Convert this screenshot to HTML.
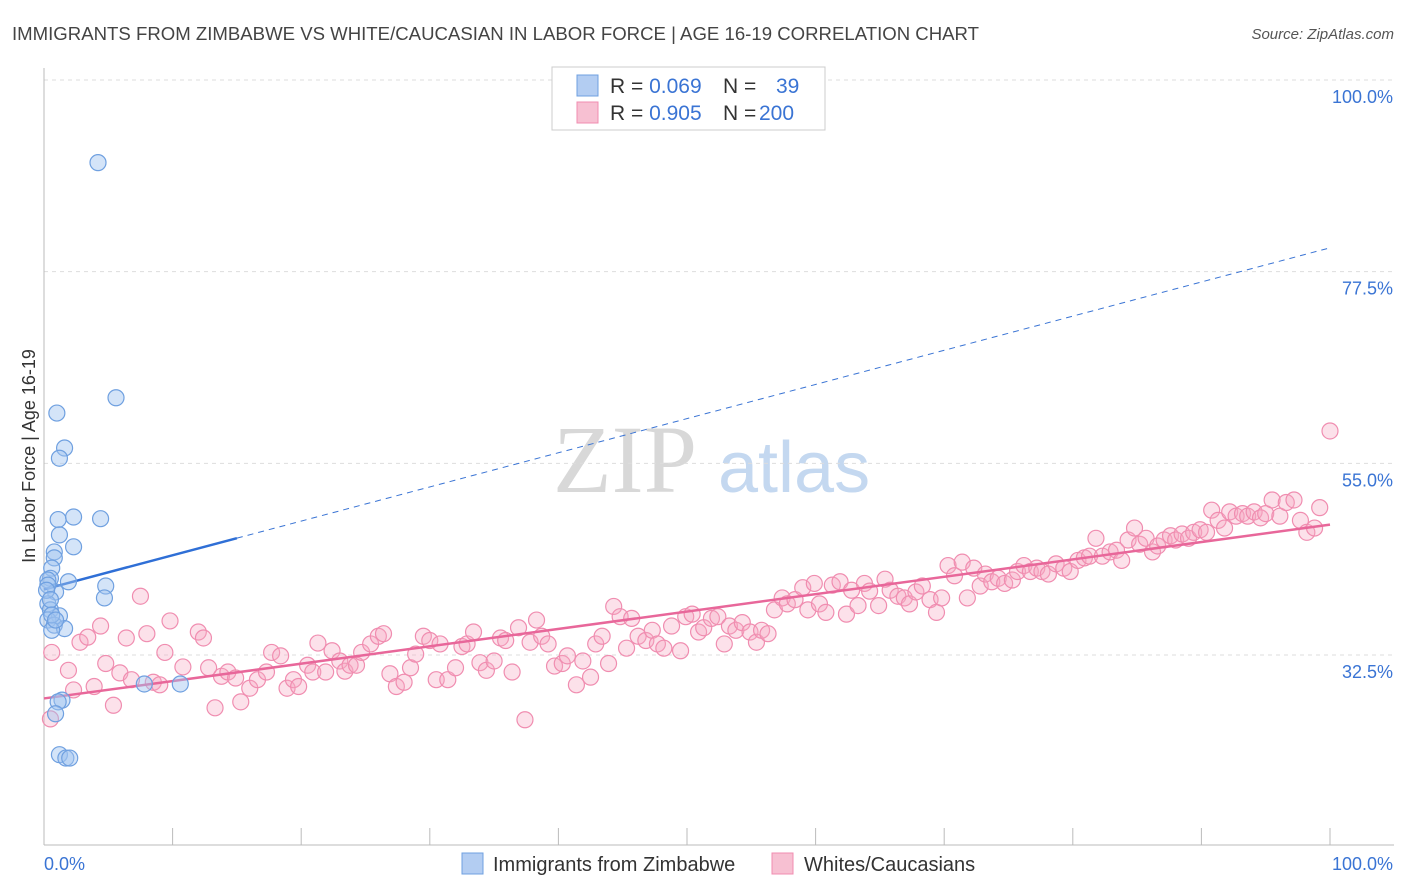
<!DOCTYPE html>
<html><head><meta charset="utf-8"><style>
body{margin:0;background:#fff;font-family:"Liberation Sans",sans-serif;}
svg{display:block}
</style></head><body>
<svg id="chart" width="1406" height="892" xmlns="http://www.w3.org/2000/svg">
<text x="12" y="40" font-size="18.6" fill="#444">IMMIGRANTS FROM ZIMBABWE VS WHITE/CAUCASIAN IN LABOR FORCE | AGE 16-19 CORRELATION CHART</text>
<text x="1394" y="39" font-size="15" fill="#555" font-style="italic" text-anchor="end">Source: ZipAtlas.com</text>
<g>
<text x="553" y="492" font-size="96" font-family="Liberation Serif,serif" fill="#d8d8d8">ZIP</text>
<text x="718" y="492" font-size="72" fill="#c4d8f0">atlas</text>
</g>
<g id="grid"></g>
<g id="axes"></g>
<g id="lines"></g>
<g id="points"></g>
<text transform="translate(35,456) rotate(-90)" font-size="18" fill="#333" text-anchor="middle">In Labor Force | Age 16-19</text>
<g>
<rect x="552" y="67" width="273" height="63" fill="#fff" stroke="#ccc"/>
<rect x="577" y="75" width="21" height="21" fill="#b3cdf2" stroke="#6fa0e0"/>
<rect x="577" y="102" width="21" height="21" fill="#f7c0d2" stroke="#f08db0"/>
<text x="610" y="93" font-size="21" fill="#333">R = <tspan fill="#3a74d4">0.069</tspan><tspan x="723">N =</tspan><tspan x="776" fill="#3a74d4">39</tspan></text>
<text x="610" y="120" font-size="21" fill="#333">R = <tspan fill="#3a74d4">0.905</tspan><tspan x="723">N =</tspan><tspan x="759" fill="#3a74d4">200</tspan></text>
</g>
<g>
<rect x="462" y="853" width="21" height="21" fill="#b3cdf2" stroke="#6fa0e0"/>
<text x="493" y="871" font-size="20" fill="#333">Immigrants from Zimbabwe</text>
<rect x="772" y="853" width="21" height="21" fill="#f7c0d2" stroke="#f08db0"/>
<text x="804" y="871" font-size="20" fill="#333">Whites/Caucasians</text>
</g>
</svg>
<script>
const yTicks=[100,77.5,55,32.5];
const yTickLabels=["100.0%","77.5%","55.0%","32.5%"];
const xTickCount=10;
const blueX=[4.2,5.6,1.0,1.6,1.2,1.1,2.3,4.4,1.2,2.3,0.8,0.8,0.6,0.5,0.3,1.9,0.9,4.8,4.7,0.3,0.5,1.2,0.3,0.8,1.6,0.6,7.8,10.6,1.4,1.1,0.9,1.2,1.7,2.0,0.3,0.2,0.5,0.6,0.9];
const blueY=[90.3,62.7,60.9,56.8,55.6,48.4,48.7,48.5,46.6,45.2,44.6,43.9,42.7,41.5,41.3,41.1,39.9,40.6,39.2,38.5,37.8,37.1,36.6,36.0,35.6,35.4,29.1,29.1,27.2,27.0,25.6,20.8,20.4,20.4,40.7,40.1,39.0,37.2,36.6];
const pinkX=[0.5,0.6,1.9,2.3,2.8,3.4,3.9,4.4,4.8,5.4,5.9,6.4,6.8,7.5,8,8.5,9,9.4,9.8,10.8,12,12.4,12.8,13.3,13.8,14.3,14.9,15.3,16,16.6,17.3,17.7,18.4,18.9,19.4,19.8,20.5,20.9,21.3,21.9,22.4,23,23.4,23.8,24.3,24.7,25.4,26,26.4,26.9,27.4,28,28.5,28.9,29.5,30,30.5,30.8,31.4,32,32.5,32.9,33.4,33.9,34.4,35,35.5,35.9,36.4,36.9,37.4,37.8,38.3,38.7,39.2,39.7,40.3,40.7,41.4,41.9,42.5,42.9,43.4,43.9,44.3,44.8,45.3,45.7,46.2,46.8,47.3,47.7,48.2,48.8,49.5,49.9,50.4,50.9,51.3,51.9,52.4,52.9,53.3,53.8,54.3,54.9,55.4,55.8,56.3,56.8,57.4,57.8,58.4,59,59.4,59.9,60.3,60.8,61.3,61.9,62.4,62.8,63.3,63.8,64.2,64.9,65.4,65.8,66.4,66.9,67.3,67.8,68.3,68.9,69.4,69.8,70.3,70.8,71.4,71.8,72.3,72.8,73.2,73.7,74.2,74.7,75.3,75.7,76.2,76.7,77.2,77.6,78.1,78.7,79.3,79.8,80.4,80.9,81.3,81.8,82.3,82.9,83.4,83.8,84.3,84.8,85.2,85.7,86.2,86.6,87.1,87.6,88,88.5,89,89.4,89.9,90.4,90.8,91.3,91.8,92.2,92.7,93.2,93.6,94.1,94.6,95,95.5,96.1,96.6,97.2,97.7,98.2,98.8,99.2,100];
const pinkY=[25,32.8,30.7,28.4,34,34.6,28.8,35.9,31.5,26.6,30.4,34.5,29.6,39.4,35,29.3,29,32.8,36.5,31.1,35.2,34.5,31,26.3,30,30.5,29.8,27,28.6,29.6,30.5,32.8,32.4,28.6,29.6,28.8,31.3,30.5,33.9,30.5,33,31.8,30.6,31.3,31.3,32.8,33.8,34.7,35,30.3,28.8,29.3,31,32.6,34.7,34.2,29.6,33.8,29.6,31,33.5,33.8,35.2,31.6,30.7,31.8,34.5,34.2,30.5,35.7,24.9,34,36.6,34.7,33.8,31.2,31.5,32.4,29,31.8,29.9,33.8,34.7,31.5,38.2,37,33.3,36.8,34.7,34.2,35.4,33.8,33.3,35.9,33,37,37.3,35.2,35.7,36.8,37,33.8,35.9,35.4,36.3,35.2,34,35.4,35,37.8,39.2,38.5,39,40.4,37.8,40.9,38.5,37.5,40.7,41.1,37.3,40.1,38.3,40.9,40,38.3,41.4,40.1,39.4,39.2,38.5,39.9,40.6,39,37.5,39.2,43,41.8,43.4,39.2,42.7,40.6,42,41.1,41.5,40.9,41.3,42.3,43,42.3,42.7,42.3,42,43.2,42.7,42.3,43.6,43.9,44.1,46.2,44.1,44.6,44.8,43.6,46,47.4,45.5,46.2,44.6,45.3,46,46.5,46,46.7,46.2,46.9,47.2,46.9,49.5,48.3,47.4,49.3,48.8,49.1,48.8,49.3,48.6,49.1,50.7,48.8,50.4,50.7,48.3,46.9,47.4,49.8,58.8];
const blueFit=[40.2,80.3];
const blueSolidEnd=15;
const pinkFit=[27.4,47.8];

const X0=44,X1=1330,Y100=80,Y32=655;
const sx=v=>X0+(X1-X0)*v/100;
const sy=v=>Y100+(Y32-Y100)*(100-v)/67.5;
const NS="http://www.w3.org/2000/svg";
function mk(tag,attrs,parent){const e=document.createElementNS(NS,tag);for(const k in attrs)e.setAttribute(k,attrs[k]);parent.appendChild(e);return e;}
const grid=document.getElementById('grid'),axes=document.getElementById('axes'),lines=document.getElementById('lines'),pts=document.getElementById('points');
yTicks.forEach((t,i)=>{
 const l=mk('line',{x1:X0,x2:1394,y1:sy(t),y2:sy(t),stroke:'#ddd','stroke-dasharray':'4,4'},grid);
 
 
 const tx=mk('text',{x:1393,y:sy(t)+23,'font-size':18,fill:'#3a74d4','text-anchor':'end'},grid);
 tx.textContent=yTickLabels[i];
 
 
});
let a=mk('line',{x1:X0,x2:X0,y1:68,y2:845,stroke:'#bbb'},axes);


a=mk('line',{x1:X0,x2:1394,y1:845,y2:845,stroke:'#bbb'},axes);


for(let i=0;i<=xTickCount;i++){
 const x=sx(i*100/xTickCount);
 const t=mk('line',{x1:x,x2:x,y1:828,y2:845,stroke:'#bbb'},axes);
 
 
}
let xl=mk('text',{x:44,y:870,'font-size':18,fill:'#3a74d4'},axes);xl.textContent='0.0%';


xl=mk('text',{x:1393,y:870,'font-size':18,fill:'#3a74d4','text-anchor':'end'},axes);xl.textContent='100.0%';


const fy=(f,x)=>f[0]+(f[1]-f[0])*x/100;
let ln=mk('line',{x1:sx(blueSolidEnd),y1:sy(fy(blueFit,blueSolidEnd)),x2:sx(100),y2:sy(fy(blueFit,100)),stroke:'#3a74d4','stroke-width':1,'stroke-dasharray':'6,5'},lines);


ln=mk('line',{x1:sx(0),y1:sy(fy(blueFit,0)),x2:sx(blueSolidEnd),y2:sy(fy(blueFit,blueSolidEnd)),stroke:'#2f6fd6','stroke-width':2.5},lines);


pinkX.forEach((x,i)=>{
 const c=mk('circle',{cx:sx(x),cy:sy(pinkY[i]),r:8,fill:'rgba(245,170,195,0.35)',stroke:'#f08db0','stroke-width':1.2},pts);
 
 
});
ln=mk('line',{x1:sx(0),y1:sy(fy(pinkFit,0)),x2:sx(100),y2:sy(fy(pinkFit,100)),stroke:'#e8679a','stroke-width':2.5},lines);
pts.appendChild(ln);


blueX.forEach((x,i)=>{
 const c=mk('circle',{cx:sx(x),cy:sy(blueY[i]),r:8,fill:'rgba(160,195,240,0.45)',stroke:'#6fa0e0','stroke-width':1.2},pts);
 
 
});
</script>
</body></html>
